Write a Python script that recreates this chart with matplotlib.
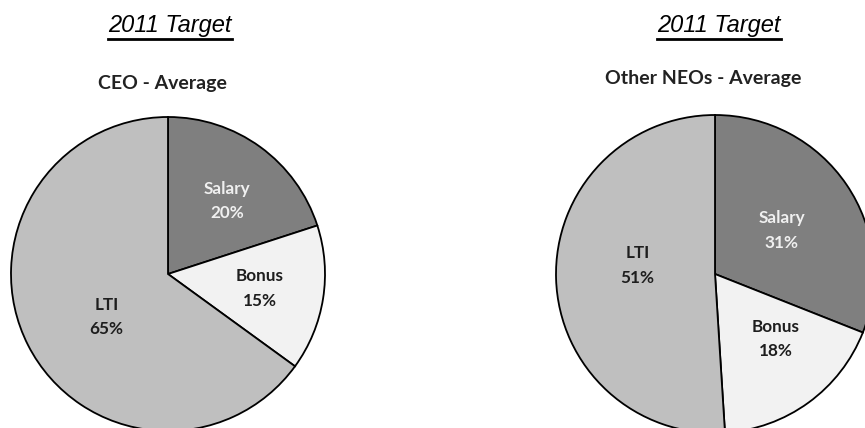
import numpy as np
import matplotlib.pyplot as plt
from matplotlib.lines import Line2D

# Data
titles = ['2011 Target', '2011 Target']
subtitles = ['CEO - Average', 'Other NEOs - Average']
categories = ['Salary', 'Bonus', 'LTI']
ceo_values = [20, 15, 65]
neo_values = [31, 18, 51]

colors = ['#7f7f7f', '#f2f2f2', '#bfbfbf']
label_colors = ['#f0f0f0', '#1e1e1e', '#1e1e1e']

W, H = 865, 428
fig = plt.figure(figsize=(W / 100, H / 100), dpi=100)
ax = fig.add_axes([0, 0, 1, 1])
ax.set_xlim(0, W)
ax.set_ylim(0, H)
ax.set_aspect('equal')
ax.axis('off')

# pie layout (pixels, y measured upwards)
pies = [
    dict(values=ceo_values, center=(168, 154), radius=157,
         title_x=170, sub_x=162, sub_y=345,
         label_r=[0.60, 0.59, 0.48], label_da=[-3, 0, 8]),
    dict(values=neo_values, center=(715, 154), radius=159,
         title_x=719, sub_x=703, sub_y=350,
         label_r=[0.50, 0.56, 0.49], label_da=[-1, 7, -8]),
]

label_font = dict(family=['Lato', 'DejaVu Sans'], weight='bold', fontsize=12.3)

title_texts = []
for i, p in enumerate(pies):
    wedges, _ = ax.pie(p['values'], colors=colors, startangle=90, counterclock=False,
                       center=p['center'], radius=p['radius'],
                       wedgeprops=dict(edgecolor='black', linewidth=1.3))
    for k, w in enumerate(wedges):
        mid = np.deg2rad((w.theta1 + w.theta2) / 2 + p['label_da'][k])
        r = p['radius'] * p['label_r'][k]
        x = p['center'][0] + r * np.cos(mid)
        y = p['center'][1] + r * np.sin(mid)
        ax.text(x, y, f"{categories[k]}\n{p['values'][k]}%", ha='center', va='center',
                color=label_colors[k], linespacing=1.65, **label_font)
    t = ax.text(p['title_x'], H - 25, titles[i], ha='center', va='center',
                fontsize=17, style='italic', family=['Liberation Sans', 'DejaVu Sans'])
    title_texts.append(t)
    ax.text(p['sub_x'], p['sub_y'], subtitles[i], ha='center', va='center',
            fontsize=14, weight='bold', color='#222222',
            family=['Lato', 'DejaVu Sans'])

ax.set_xlim(0, W)
ax.set_ylim(0, H)

# underline the titles
fig.canvas.draw()
renderer = fig.canvas.get_renderer()
for t in title_texts:
    bb = t.get_window_extent(renderer)
    y = bb.y0 - 2
    fig.add_artist(Line2D([bb.x0 / W, bb.x1 / W], [y / H, y / H],
                          transform=fig.transFigure, color='black', linewidth=2))

fig.savefig('out.png', dpi=100)
